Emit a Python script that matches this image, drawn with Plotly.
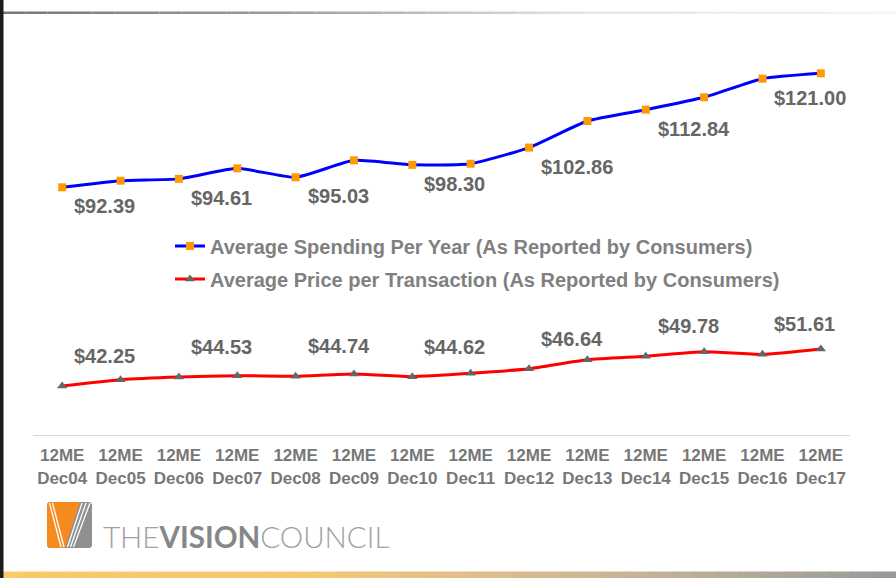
import plotly.graph_objects as go

# ---------------- data ----------------
periods = ["Dec04", "Dec05", "Dec06", "Dec07", "Dec08", "Dec09", "Dec10",
           "Dec11", "Dec12", "Dec13", "Dec14", "Dec15", "Dec16", "Dec17"]
tick_labels = ["12ME<br>" + p for p in periods]

spending = [92.39, 94.13, 94.61, 97.39, 95.03, 99.50, 98.30,
            98.60, 102.86, 109.86, 112.84, 116.10, 121.00, 122.42]
spending_labels = ["$92.39", None, "$94.61", None, "$95.03", None, "$98.30",
                   None, "$102.86", None, "$112.84", None, "$121.00", None]

price = [42.25, 43.85, 44.53, 44.86, 44.74, 45.29, 44.62,
         45.47, 46.64, 48.91, 49.78, 50.93, 50.27, 51.62]
price_labels = ["$42.25", None, "$44.53", None, "$44.74", None, "$44.62",
                None, "$46.64", None, "$49.78", None, "$51.61", None]

spending_name = "Average Spending Per Year (As Reported by Consumers)"
price_name = "Average Price per Transaction (As Reported by Consumers)"

# ---------------- layout helpers ----------------
W, H = 896, 578
FONT = "Arial, Liberation Sans, sans-serif"


def px(x):
    return x / W


def py(y):
    return 1 - y / H


def axis_map(v1, p1, v2, p2, top, bottom):
    s = (p1 - p2) / (v2 - v1)
    lo = v1 - (bottom - p1) / s
    hi = v1 + (p1 - top) / s
    return [lo, hi], [py(bottom), py(top)]


top_range, top_domain = axis_map(92.39, 187.3, 121.0, 78.7, 40, 215)
bot_range, bot_domain = axis_map(42.25, 386, 49.78, 356.3, 300, 420)

fig = go.Figure()
fig.add_trace(go.Scatter(
    x=tick_labels, y=spending, name=spending_name, mode="lines+markers",
    line=dict(color="#0000FF", width=3, shape="spline", smoothing=0.5),
    marker=dict(symbol="square", size=8, color="#FF9900"),
    yaxis="y", legendgroup="a", hoverinfo="skip"))
fig.add_trace(go.Scatter(
    x=tick_labels, y=price, name=price_name, mode="lines+markers",
    line=dict(color="#FF0000", width=3, shape="spline", smoothing=0.5),
    marker=dict(symbol="triangle-up", size=9, color="#666666"),
    yaxis="y2", legendgroup="b", hoverinfo="skip"))

annotations = []
label_font = dict(family=FONT, size=20, color="#666666", weight="bold")
for cat, v, t in zip(tick_labels, spending, spending_labels):
    if t:
        annotations.append(dict(x=cat, y=v, xref="x", yref="y", text=t,
                                showarrow=False, xanchor="left", yanchor="middle",
                                xshift=10, yshift=-19, font=label_font))
for cat, v, t in zip(tick_labels, price, price_labels):
    if t:
        annotations.append(dict(x=cat, y=v, xref="x", yref="y2", text=t,
                                showarrow=False, xanchor="left", yanchor="middle",
                                xshift=10, yshift=30, font=label_font))

# logo text
annotations.append(dict(
    xref="paper", yref="paper", x=px(101), y=py(536.5), xanchor="left", yanchor="middle",
    showarrow=False,
    text="<span style='color:#a0a0a0'>THE</span><b style='color:#878787;font-weight:700'>VISION</b>"
         "<span style='color:#a0a0a0'>COUNCIL</span>",
    font=dict(family="Lato, Noto Sans, sans-serif", size=29.5, color="#a0a0a0", weight=300)))

shapes = []


def mix(c1, c2, t):
    return tuple(round(a + (b - a) * t) for a, b in zip(c1, c2))


def gradient_stops(stops, x):
    for (x0, c0), (x1, c1) in zip(stops, stops[1:]):
        if x0 <= x <= x1:
            return mix(c0, c1, (x - x0) / (x1 - x0))
    return stops[-1][1]


# top thin gradient rule
top_stops = [(0, (118, 118, 118)), (300, (160, 160, 160)), (600, (232, 232, 232)), (896, (244, 244, 244))]
n = 40
for i in range(n):
    x0 = 3 + (W - 3) * i / n
    x1 = 3 + (W - 3) * (i + 1) / n
    c = gradient_stops(top_stops, (x0 + x1) / 2)
    shapes.append(dict(type="rect", xref="paper", yref="paper", x0=px(x0), x1=px(x1),
                       y0=py(14), y1=py(11.5), line=dict(width=0),
                       fillcolor="rgb(%d,%d,%d)" % c))

# bottom gradient band
band_stops = [(0, (250, 203, 103)), (300, (245, 200, 112)), (450, (228, 191, 136)),
              (650, (196, 179, 152)), (896, (152, 152, 152))]
for i in range(n):
    x0 = W * i / n
    x1 = W * (i + 1) / n
    c = gradient_stops(band_stops, (x0 + x1) / 2)
    shapes.append(dict(type="rect", xref="paper", yref="paper", x0=px(x0), x1=px(x1) + 0.001,
                       y0=py(578), y1=py(571.5), line=dict(width=0),
                       fillcolor="rgb(%d,%d,%d)" % c))

# left border
shapes.append(dict(type="rect", xref="paper", yref="paper", x0=0, x1=px(3.5), y0=0, y1=1,
                   line=dict(width=0), fillcolor="#1c1c1c"))


def path(pts):
    return "M " + " L ".join("%f,%f" % (px(a), py(b)) for a, b in pts) + " Z"


# logo icon
shapes.append(dict(type="path", xref="paper", yref="paper",
                   path=path([(49, 502), (90, 502), (92, 504), (92, 546), (90, 548),
                              (49, 548), (47, 546), (47, 504)]),
                   line=dict(width=0), fillcolor="#8f8f8f"))
shapes.append(dict(type="path", xref="paper", yref="paper",
                   path=path([(49, 502), (80, 502), (65, 548), (49, 548), (47, 546), (47, 504)]),
                   line=dict(width=0), fillcolor="#F58A1F"))
for (a, b, c, d) in [(49.5, 503, 61, 547), (52.5, 503, 64, 547),
                     (82, 503, 67.5, 547), (86, 503, 70.5, 547), (90, 503, 73.5, 547)]:
    shapes.append(dict(type="line", xref="paper", yref="paper",
                       x0=px(a), y0=py(b), x1=px(c), y1=py(d),
                       line=dict(color="white", width=1.3)))

fig.update_layout(
    width=W, height=H, autosize=False,
    margin=dict(l=0, r=0, t=0, b=0),
    paper_bgcolor="white", plot_bgcolor="white",
    font=dict(family=FONT),
    showlegend=True,
    legend=dict(x=px(170), y=py(226.5), xanchor="left", yanchor="top",
                bgcolor="rgba(0,0,0,0)", traceorder="grouped", tracegroupgap=4,
                itemwidth=30,
                font=dict(family=FONT, size=20, color="#808080", weight="bold")),
    xaxis=dict(type="category", range=[-0.5, 13.5], domain=[px(33), px(850)],
               anchor="free", position=py(435), showline=True, linecolor="#d9d9d9",
               linewidth=1, showgrid=False, zeroline=False,
               ticks="outside", ticklen=5, tickcolor="rgba(0,0,0,0)",
               tickfont=dict(family=FONT, size=17, color="#777777", weight="bold"),
               automargin=False, fixedrange=True),
    yaxis=dict(range=top_range, domain=top_domain, visible=False, anchor="x",
               showgrid=False, zeroline=False),
    yaxis2=dict(range=bot_range, domain=bot_domain, visible=False, anchor="x",
                showgrid=False, zeroline=False),
    annotations=annotations,
    shapes=shapes,
)

fig.write_html("out.html", config={"displayModeBar": False},
               post_script="document.body.style.margin='0';")
